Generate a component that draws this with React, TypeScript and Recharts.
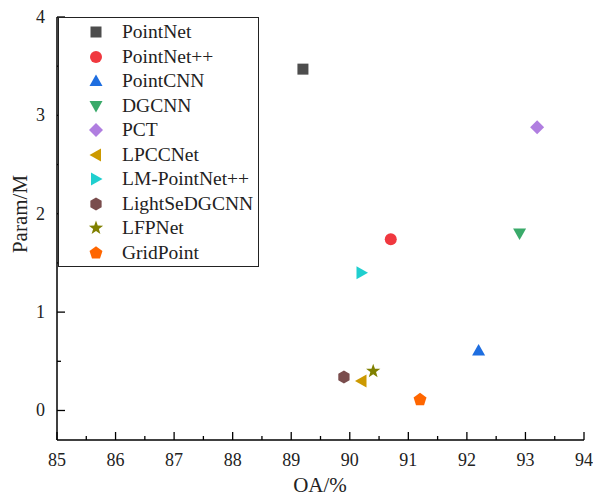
import React from 'react';
import { ScatterChart, Scatter, XAxis, YAxis } from 'recharts';

const models = ['PointNet', 'PointNet++', 'PointCNN', 'DGCNN', 'PCT', 'LPCCNet', 'LM-PointNet++', 'LightSeDGCNN', 'LFPNet', 'GridPoint'];
const oaValues = [89.2, 90.7, 92.2, 92.9, 93.2, 90.2, 90.2, 89.9, 90.4, 91.2];
const paramValues = [3.47, 1.74, 0.61, 1.8, 2.88, 0.3, 1.4, 0.34, 0.4, 0.11];
const xTicks = [85, 85.5, 86, 86.5, 87, 87.5, 88, 88.5, 89, 89.5, 90, 90.5, 91, 91.5, 92, 92.5, 93, 93.5, 94];
const yTicks = [0, 0.5, 1, 1.5, 2, 2.5, 3, 3.5, 4];

const colors = ['#4d4d4d', '#f0383f', '#1e6ee0', '#3aaa6a', '#b07ee0', '#cc9900', '#1fcfcf', '#7a4d4d', '#808000', '#ff6600'];
const shapes = ['square', 'circle', 'up', 'down', 'diamond', 'left', 'right', 'hexagon', 'star', 'pentagon'];

const FONT = 'Liberation Serif, Tinos, Times New Roman, serif';

function polyPoints(cx: number, cy: number, n: number, r: number, start: number) {
  const pts: string[] = [];
  for (let i = 0; i < n; i++) {
    const a = start + (i * 2 * Math.PI) / n;
    pts.push(`${cx + r * Math.cos(a)},${cy + r * Math.sin(a)}`);
  }
  return pts.join(' ');
}

function starPoints(cx: number, cy: number, ro: number, ri: number) {
  const pts: string[] = [];
  for (let i = 0; i < 10; i++) {
    const r = i % 2 === 0 ? ro : ri;
    const a = -Math.PI / 2 + (i * Math.PI) / 5;
    pts.push(`${cx + r * Math.cos(a)},${cy + r * Math.sin(a)}`);
  }
  return pts.join(' ');
}

const Marker = ({ kind, cx, cy, fill }: { kind: string; cx: number; cy: number; fill: string }) => {
  switch (kind) {
    case 'square':
      return <rect x={cx - 5.5} y={cy - 5.5} width={11} height={11} fill={fill} />;
    case 'circle':
      return <circle cx={cx} cy={cy} r={6} fill={fill} />;
    case 'up':
      return <polygon points={`${cx},${cy - 6.5} ${cx + 6.5},${cy + 5} ${cx - 6.5},${cy + 5}`} fill={fill} />;
    case 'down':
      return <polygon points={`${cx},${cy + 6.5} ${cx + 6.5},${cy - 5} ${cx - 6.5},${cy - 5}`} fill={fill} />;
    case 'left':
      return <polygon points={`${cx - 6.5},${cy} ${cx + 5},${cy - 6.5} ${cx + 5},${cy + 6.5}`} fill={fill} />;
    case 'right':
      return <polygon points={`${cx + 6.5},${cy} ${cx - 5},${cy - 6.5} ${cx - 5},${cy + 6.5}`} fill={fill} />;
    case 'diamond':
      return <polygon points={`${cx},${cy - 7} ${cx + 7},${cy} ${cx},${cy + 7} ${cx - 7},${cy}`} fill={fill} />;
    case 'hexagon':
      return <polygon points={polyPoints(cx, cy, 6, 6.5, -Math.PI / 2)} fill={fill} />;
    case 'pentagon':
      return <polygon points={polyPoints(cx, cy, 5, 6.8, -Math.PI / 2)} fill={fill} />;
    case 'star':
      return <polygon points={starPoints(cx, cy, 7.5, 3)} fill={fill} />;
    default:
      return null;
  }
};

const XTick = (props: any) => {
  const { x, y, payload } = props;
  const major = Number.isInteger(payload.value);
  return (
    <g>
      <line x1={x} x2={x} y1={y} y2={y - (major ? 8 : 4)} stroke="#000" strokeWidth={1.3} />
      {major && (
        <text x={x} y={y + 25.5} textAnchor="middle" fill="#222" style={{ fontFamily: FONT, fontSize: 18 }}>
          {payload.value}
        </text>
      )}
    </g>
  );
};

const YTick = (props: any) => {
  const { x, y, payload } = props;
  const major = Number.isInteger(payload.value);
  return (
    <g>
      <line x1={x} x2={x + (major ? 8 : 4)} y1={y} y2={y} stroke="#000" strokeWidth={1.3} />
      {major && (
        <text x={x - 12} y={y + 6} textAnchor="end" fill="#222" style={{ fontFamily: FONT, fontSize: 18 }}>
          {payload.value}
        </text>
      )}
    </g>
  );
};

const Legend = () => (
  <div
    style={{
      position: 'absolute',
      left: 58,
      top: 17,
      width: 201,
      height: 250,
      border: '1px solid #222',
      boxSizing: 'border-box',
      background: '#fff',
    }}
  >
    {models.map((m, i) => (
      <div key={m} style={{ position: 'absolute', left: 0, top: 3 + i * 24.5, height: 22, display: 'flex', alignItems: 'center' }}>
        <svg width={80} height={22} style={{ display: 'block' }}>
          <Marker kind={shapes[i]} cx={37} cy={11} fill={colors[i]} />
        </svg>
        <span style={{ fontFamily: FONT, fontSize: 19.5, color: '#222', marginLeft: -17, whiteSpace: 'nowrap' }}>{m}</span>
      </div>
    ))}
  </div>
);

export default function App() {
  return (
    <div style={{ position: 'absolute', left: 0, top: 0, width: 593, height: 496, background: '#fff' }}>
      <ScatterChart width={593} height={496} margin={{ top: 17, right: 9, bottom: 0, left: 0 }}>
        <XAxis
          type="number"
          dataKey="x"
          domain={[85, 94]}
          ticks={xTicks}
          interval={0}
          height={56}
          tickSize={0}
          tickMargin={0}
          tickLine={false}
          axisLine={{ stroke: '#000', strokeWidth: 1.5 }}
          tick={<XTick />}
          label={{
            content: () => (
              <text x={320} y={492} textAnchor="middle" fill="#222" style={{ fontFamily: FONT, fontSize: 21 }}>
                OA/%
              </text>
            ),
          }}
        />
        <YAxis
          type="number"
          dataKey="y"
          domain={[-0.3, 4]}
          ticks={yTicks}
          interval={0}
          width={57}
          tickSize={0}
          tickMargin={0}
          tickLine={false}
          axisLine={{ stroke: '#000', strokeWidth: 1.5 }}
          tick={<YTick />}
          label={{
            content: () => (
              <text x={27} y={214} textAnchor="middle" fill="#222" style={{ fontFamily: FONT, fontSize: 21 }} transform="rotate(-90 27 214)">
                Param/M
              </text>
            ),
          }}
        />
        {models.map((m, i) => (
          <Scatter
            key={m}
            name={m}
            data={[{ x: oaValues[i], y: paramValues[i] }]}
            isAnimationActive={false}
            shape={(p: any) => <Marker kind={shapes[i]} cx={p.cx} cy={p.cy} fill={colors[i]} />}
          />
        ))}
      </ScatterChart>
      <Legend />
    </div>
  );
}
